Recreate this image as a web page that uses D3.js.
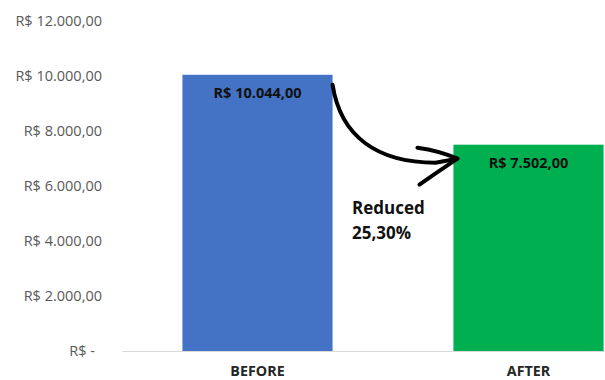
<!DOCTYPE html>
<html>
<head>
<meta charset="utf-8">
<script src="https://cdn.jsdelivr.net/npm/d3@7"></script>
<style>
  html, body { margin: 0; padding: 0; background: #fff; }
  svg { display: block; }
  text { font-family: "Open Sans", Lato, sans-serif; }
</style>
</head>
<body>
<svg id="chart" width="605" height="380"></svg>
<script>
// Chart data
const categories = ["BEFORE", "AFTER"];
const values = [10044, 7502];
const barColors = ["#4472C4", "#00B050"];
const yTicks = [0, 2000, 4000, 6000, 8000, 10000, 12000];
const yTickLabels = ["R$ -", "R$ 2.000,00", "R$ 4.000,00", "R$ 6.000,00", "R$ 8.000,00", "R$ 10.000,00", "R$ 12.000,00"];
const valueLabels = ["R$ 10.044,00", "R$ 7.502,00"];
const noteLines = ["Reduced", "25,30%"];

const FONT = "'Open Sans', Lato, sans-serif";
const svg = d3.select("#chart");

const x = d3.scaleBand()
  .domain(categories)
  .range([122, 664])
  .paddingInner(0.446)
  .paddingOuter(0.223);

const y = d3.scaleLinear()
  .domain([0, 12000])
  .range([351, 21]);

// Y axis labels (no line, no ticks)
const yAxis = d3.axisLeft(y)
  .tickValues(yTicks)
  .tickFormat((d, i) => yTickLabels[i])
  .tickSize(0)
  .tickPadding(0);

const gy = svg.append("g")
  .attr("transform", "translate(102,0)")
  .call(yAxis);
gy.select(".domain").remove();
gy.selectAll("text")
  .attr("fill", "#595959")
  .style("font-size", "14.5px")
  .style("font-family", FONT);
// accounting-style zero label sits a little left of the decimals column
gy.selectAll(".tick").filter(d => d === 0).select("text").attr("dx", -7);

// Bars
svg.append("g").selectAll("rect")
  .data(values)
  .join("rect")
  .attr("x", (d, i) => x(categories[i]))
  .attr("y", d => y(d))
  .attr("width", x.bandwidth())
  .attr("height", d => y(0) - y(d))
  .attr("fill", (d, i) => barColors[i]);

// Baseline / category axis
const xAxis = d3.axisBottom(x).tickSize(0).tickPadding(15);
const gx = svg.append("g")
  .attr("transform", `translate(0,${y(0)})`)
  .call(xAxis);
gx.select(".domain").attr("stroke", "#d9d9d9").attr("stroke-width", 1);
gx.selectAll("text")
  .attr("fill", "#262626")
  .style("font-size", "14.3px")
  .style("font-weight", "bold")
  .style("font-family", FONT);

// Value labels inside bars
svg.append("g").selectAll("text")
  .data(values)
  .join("text")
  .attr("x", (d, i) => x(categories[i]) + x.bandwidth() / 2)
  .attr("y", d => y(d) + 18)
  .attr("dy", "0.35em")
  .attr("text-anchor", "middle")
  .attr("fill", "#111")
  .style("font-size", "14.5px")
  .style("font-weight", "bold")
  .text((d, i) => valueLabels[i]);

// Hand-drawn style arrow from BEFORE to AFTER
const x0 = x(categories[0]) + x.bandwidth();
const x1 = x(categories[1]);
const yA = y(values[0]) + 10;
const tipX = x1 + 4;
const tipY = y(values[1]) + 14;
const arrow = svg.append("g")
  .attr("fill", "none")
  .attr("stroke", "#000")
  .attr("stroke-linecap", "round")
  .attr("stroke-linejoin", "round");

arrow.append("path")
  .attr("stroke-width", 4)
  .attr("d", `M${x0},${yA} C${x0 + 8},${yA + 52} ${x0 + 45},${tipY + 4} ${tipX - 22},${tipY + 4} L${tipX},${tipY}`);
arrow.append("path")
  .attr("stroke-width", 4)
  .attr("d", `M${tipX - 40},${tipY - 11} Q${tipX - 18},${tipY - 8} ${tipX},${tipY} Q${tipX - 18},${tipY + 12} ${tipX - 38},${tipY + 26}`);

// Annotation text
const note = svg.append("text")
  .attr("x", 352)
  .attr("y", 214)
  .attr("fill", "#111")
  .style("font-size", "17px")
  .style("font-weight", "bold");
note.selectAll("tspan")
  .data(noteLines)
  .join("tspan")
  .attr("x", 352)
  .attr("dy", (d, i) => i === 0 ? 0 : 25)
  .text(d => d);
</script>
</body>
</html>
